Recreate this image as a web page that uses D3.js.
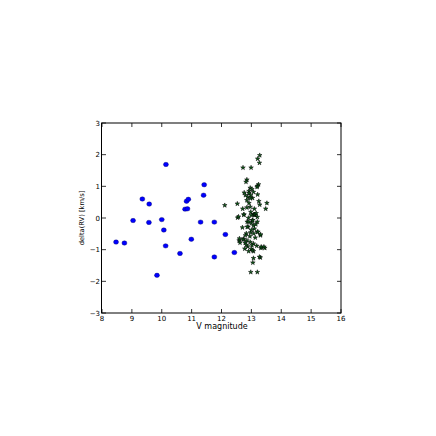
<!DOCTYPE html>
<html><head><meta charset="utf-8">
<script src="https://cdn.jsdelivr.net/npm/d3@7"></script>
<style>body{margin:0;background:#fff}svg{display:block}</style>
</head><body>
<script>
// Data
const blueX = [8.47,8.75,9.04,9.35,9.58,9.57,9.84,10.0,10.07,10.14,10.13,10.61,10.78,10.86,10.83,10.89,10.99,11.30,11.42,11.40,11.76,11.76,12.13,12.43];
const blueY = [-0.76,-0.79,-0.08,0.60,0.44,-0.14,-1.81,-0.05,-0.38,1.69,-0.88,-1.12,0.28,0.29,0.53,0.59,-0.67,-0.13,1.05,0.72,-0.13,-1.23,-0.52,-1.09];
const starX = [13.28,13.21,13.27,12.72,12.99,12.85,12.82,13.24,13.20,12.96,13.02,12.92,12.76,12.92,13.07,12.80,12.98,13.21,12.88,13.04,12.85,12.53,13.25,13.52,12.71,12.85,12.96,13.10,13.28,13.48,12.11,12.98,13.07,13.12,12.75,12.54,12.90,13.20,13.03,13.12,12.86,13.00,13.20,12.89,13.07,12.83,12.97,13.08,13.20,13.30,12.74,12.85,12.59,12.62,12.79,12.96,13.07,13.02,13.18,12.88,13.32,13.45,12.78,12.91,13.07,13.30,13.07,13.05,12.98,13.20,12.57,12.75,12.99,13.11,13.05,12.91,13.15,12.86,13.10,13.00,13.22,13.31,12.80,12.95,12.60,12.72,12.83,13.33,13.42,13.27,13.00,13.04,12.97,13.19,12.92,13.16,12.70,13.13];
const starY = [1.98,1.87,1.74,1.59,1.59,1.21,1.14,1.06,1.01,0.95,0.91,0.85,0.80,0.78,0.82,0.72,0.72,0.74,0.66,0.63,0.56,0.45,0.53,0.47,0.29,0.33,0.35,0.29,0.42,0.29,0.40,0.19,0.11,0.09,0.10,0.01,0.00,0.03,-0.07,0.11,-0.12,-0.16,-0.12,-0.28,-0.24,-0.49,-0.46,-0.49,-0.44,-0.55,-0.66,-0.71,-0.71,-0.78,-0.78,-0.76,-0.81,-0.86,-0.88,-0.90,-0.95,-0.95,-0.97,-1.05,-1.05,-1.25,-1.27,-1.41,-1.71,-1.71,0.04,0.11,0.09,0.11,-0.07,-0.12,-0.20,-0.28,-0.34,-0.38,-0.44,-0.52,-0.55,-0.58,-0.65,-0.68,-0.85,-0.91,-0.91,-1.23,-0.98,-1.02,0.62,0.98,0.47,0.15,-0.30,-0.62];
const xTicks = [8,9,10,11,12,13,14,15,16];
const yTicks = [-3,-2,-1,0,1,2,3];
const xLabel = "V magnitude";
const yLabel = "delta(RV) [km/s]";

const W = 436, H = 436;
const L = 102, R = 341, T = 123, B = 313;
const svg = d3.select("body").append("svg").attr("width", W).attr("height", H);
const x = d3.scaleLinear().domain([8,16]).range([L, R]);
const y = d3.scaleLinear().domain([-3,3]).range([B, T]);
const font = "DejaVu Sans, sans-serif";

// points
const pts = svg.append("g");
pts.selectAll("ellipse.b").data(blueX.map((v,i)=>[v,blueY[i]])).join("ellipse")
  .attr("cx", d=>x(d[0])).attr("cy", d=>y(d[1])).attr("rx", 2.5).attr("ry", 2.2)
  .attr("fill", "#0000ff").attr("stroke", "#00006a").attr("stroke-width", 0.4);
const star = d3.symbol().type(d3.symbolStar).size(6.5);
pts.selectAll("path.s").data(starX.map((v,i)=>[v,starY[i]])).join("path")
  .attr("d", star).attr("transform", d=>`translate(${x(d[0])},${y(d[1])})`)
  .attr("fill", "#0b5a16").attr("stroke", "#000").attr("stroke-width", 0.5);

// axes (ticks inside, all four sides)
const tl = 4;
const ax = svg.append("g").attr("stroke", "#000").attr("stroke-width", 0.8);
xTicks.forEach(t => {
  ax.append("line").attr("x1", x(t)).attr("x2", x(t)).attr("y1", B).attr("y2", B - tl);
  ax.append("line").attr("x1", x(t)).attr("x2", x(t)).attr("y1", T).attr("y2", T + tl);
});
yTicks.forEach(t => {
  ax.append("line").attr("x1", L).attr("x2", L + tl).attr("y1", y(t)).attr("y2", y(t));
  ax.append("line").attr("x1", R).attr("x2", R - tl).attr("y1", y(t)).attr("y2", y(t));
});
svg.append("rect").attr("x", L - 0.5).attr("y", T).attr("width", R - L + 0.5).attr("height", B - T)
  .attr("fill", "none").attr("stroke", "#000").attr("stroke-width", 1);

const tg = svg.append("g").attr("font-family", font).attr("font-size", 7).attr("fill", "#000");
xTicks.forEach(t => tg.append("text").attr("x", x(t)).attr("y", B + 7.5).attr("text-anchor", "middle").text(t));
yTicks.forEach(t => tg.append("text").attr("x", L - 2).attr("y", y(t) + 2.5).attr("text-anchor", "end").text(t < 0 ? "\u2212" + Math.abs(t) : t));

svg.append("text").attr("x", (L + R) / 2 + 0.5).attr("y", B + 15.5).attr("text-anchor", "middle")
  .attr("font-family", font).attr("font-size", 8).text(xLabel);
svg.append("text").attr("transform", `translate(84,${(T + B) / 2}) rotate(-90)`).attr("text-anchor", "middle")
  .attr("font-family", font).attr("font-size", 6.7).text(yLabel);
</script>
</body></html>
